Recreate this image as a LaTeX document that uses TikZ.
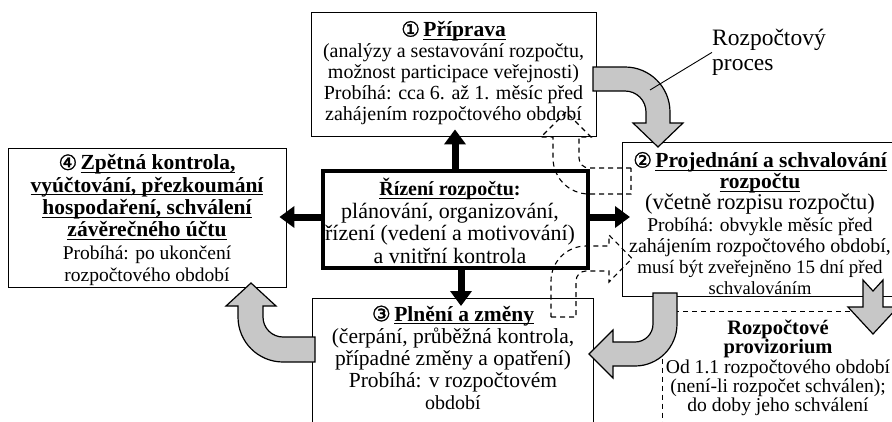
\documentclass[tikz,border=0pt]{standalone}
\usepackage{fontspec}
\setmainfont{Liberation Serif}
\newfontfamily\symfont[FakeBold=1.5]{DejaVu Sans}
\usetikzlibrary{arrows.meta}
\newsavebox\ulinebox
\newcommand\ulin[1]{\sbox\ulinebox{#1}\rlap{\rule[-3.2pt]{\wd\ulinebox}{1.2pt}}\usebox\ulinebox}
\newcommand\circnum[1]{{\fontsize{21}{21}\symfont #1}}
\newcommand\ttl[1]{{\fontsize{21.5}{22}\selectfont\bfseries\ulin{#1}}}
\newcommand\szl[2]{{\fontsize{#1}{#1}\selectfont #2}}
\newcommand\setfs[2]{\fontsize{#1}{#2}\selectfont\lineskiplimit-30pt\relax}
\begin{document}
\begin{tikzpicture}[x=1pt,y=1pt,
  box/.style={draw, line width=1.4pt, fill=white, inner sep=0pt, anchor=north west},
  txt/.style={align=center, inner sep=0pt},
  blk/.style={line width=7pt, -{Triangle[length=15pt,width=21pt]}, shorten >=-8pt},
  grayarrow/.style={draw=black, line width=1.2pt, fill=black!22, line join=miter},
  ghost/.style={draw=black, line width=1.1pt, dash pattern=on 5pt off 4pt},
]
\useasboundingbox (0,0) rectangle (892,-421);
\fill[white] (0,0) rectangle (892,-421);
\clip (0,0) rectangle (892,-421);

% provisional budget area (dashed frame)
\node[ghost, inner sep=0pt, anchor=north west, minimum width=240, minimum height=130] (pv) at (662,-311) {};

% phase boxes
\node[box, minimum width=285, minimum height=124] (b1) at (311,-12) {};
\node[box, minimum width=280, minimum height=154] (b2) at (622,-142) {};
\node[box, minimum width=281, minimum height=140] (b3) at (312,-298) {};
\node[box, minimum width=278, minimum height=139] (b4) at (8,-148) {};
\node[box, line width=4pt, minimum width=265, minimum height=97] (c) at (321,-169) {};

% texts
\node[txt, font={\setfs{20}{21}}] (t1) at (453.5,-73) {\circnum{①}\,\ttl{Příprava}\\(analýzy a sestavování rozpočtu,\\možnost participace veřejnosti)\\Probíhá: cca 6. až 1. měsíc před\\zahájením rozpočtového období};
\node[txt, font={\setfs{20}{21.2}}] (t2) at (760,-223.5) {\circnum{②}\,\ttl{Projednání a schvalování}\\\ttl{rozpočtu}\\\szl{22.5}{(včetně rozpisu rozpočtu)}\\\szl{19.5}{Probíhá: obvykle měsíc před}\\zahájením rozpočtového období,\\\szl{19}{musí být zveřejněno 15 dní před}\\\szl{18.5}{schvalováním}};
\node[txt, font={\setfs{21.5}{22}}] (t3) at (453,-357.5) {\circnum{③}\,\ttl{Plnění a změny}\\(čerpání, průběžná kontrola,\\případné změny a opatření)\\Probíhá: v rozpočtovém\\\szl{20}{období}};
\node[txt, font={\setfs{19.5}{22.3}}] (t4) at (147,-220) {\circnum{④}\,\ttl{Zpětná kontrola,}\\\ttl{vyúčtování, přezkoumání}\\\ttl{hospodaření, schválení}\\\ttl{závěrečného účtu}\\Probíhá: po ukončení\\rozpočtového období};
\node[txt, font={\setfs{22}{22.7}}] (tc) at (450,-221) {{\fontsize{20}{22}\selectfont\bfseries\ulin{Řízení rozpočtu}:}\\plánování, organizování,\\řízení (vedení a motivování)\\a vnitřní kontrola};
\node[txt, font={\setfs{19.6}{19.4}}] (tp) at (778,-368) {\szl{20.5}{\bfseries Rozpočtové}\\\szl{20.5}{\bfseries provizorium}\\Od 1.1 rozpočtového období\\(není-li rozpočet schválen);\\do doby jeho schválení};

% label of the process arrow
\node[anchor=north west, align=left, inner sep=0pt, font={\setfs{23.5}{25}}] (lbl) at (712,-29) {Rozpočtový\\proces};

% black connectors from the central box
\coordinate (ux) at (455,0);
\coordinate (dx) at (461,0);
\coordinate (hy) at (0,-217);
\draw[blk] (c.north -| ux) -- (b1.south -| ux);
\draw[blk] (c.south -| dx) -- (b3.north -| dx);
\draw[blk] (c.west |- hy) -- (b4.east |- hy);
\draw[blk] (c.east |- hy) -- (b2.west |- hy);

% bent process arrows
\path[grayarrow] (593,-67) -- (625,-67) arc[start angle=90,end angle=0,radius=45]
  -- (670,-123) -- (683,-123) -- (658,-147) -- (633,-123) -- (646,-123) -- (646,-112)
  arc[start angle=0,end angle=90,radius=21] -- (593,-91) -- cycle;
\path[grayarrow] (653,-293) -- (677,-293) -- (677,-324) arc[start angle=0,end angle=-90,radius=42]
  -- (613,-366) -- (613,-378) -- (589,-354) -- (613,-330) -- (613,-342) -- (635,-342)
  arc[start angle=-90,end angle=0,radius=18] -- cycle;
\path[grayarrow] (315,-337) -- (283,-337) arc[start angle=270,end angle=180,radius=20]
  -- (263,-306) -- (276,-306) -- (251,-283) -- (226,-306) -- (238,-306) -- (238,-317)
  arc[start angle=180,end angle=270,radius=45] -- (315,-362) -- cycle;
\path[grayarrow] (863,-280) -- (873,-291) -- (883,-280) -- (883,-307) -- (898,-307)
  -- (873,-334) -- (848,-307) -- (863,-307) -- cycle;

\coordinate (pin) at (650,-90);
\draw[line width=0.9pt] (lbl.west) -- (pin);

% dashed alternative paths
\draw[ghost] (631,-168) -- (589,-168) arc[start angle=270,end angle=180,radius=10]
  -- (579,-137) -- (591,-137) -- (566,-112) -- (541,-137) -- (553,-137) -- (553,-158)
  arc[start angle=180,end angle=270,radius=36] -- (631,-194) -- cycle;
\draw[ghost] (551,-317) -- (576,-317) -- (576,-281) arc[start angle=180,end angle=90,radius=10]
  -- (609,-271) -- (609,-282) -- (632,-258.5) -- (609,-235) -- (609,-246) -- (586,-246)
  arc[start angle=90,end angle=180,radius=35] -- cycle;
\end{tikzpicture}
\end{document}
